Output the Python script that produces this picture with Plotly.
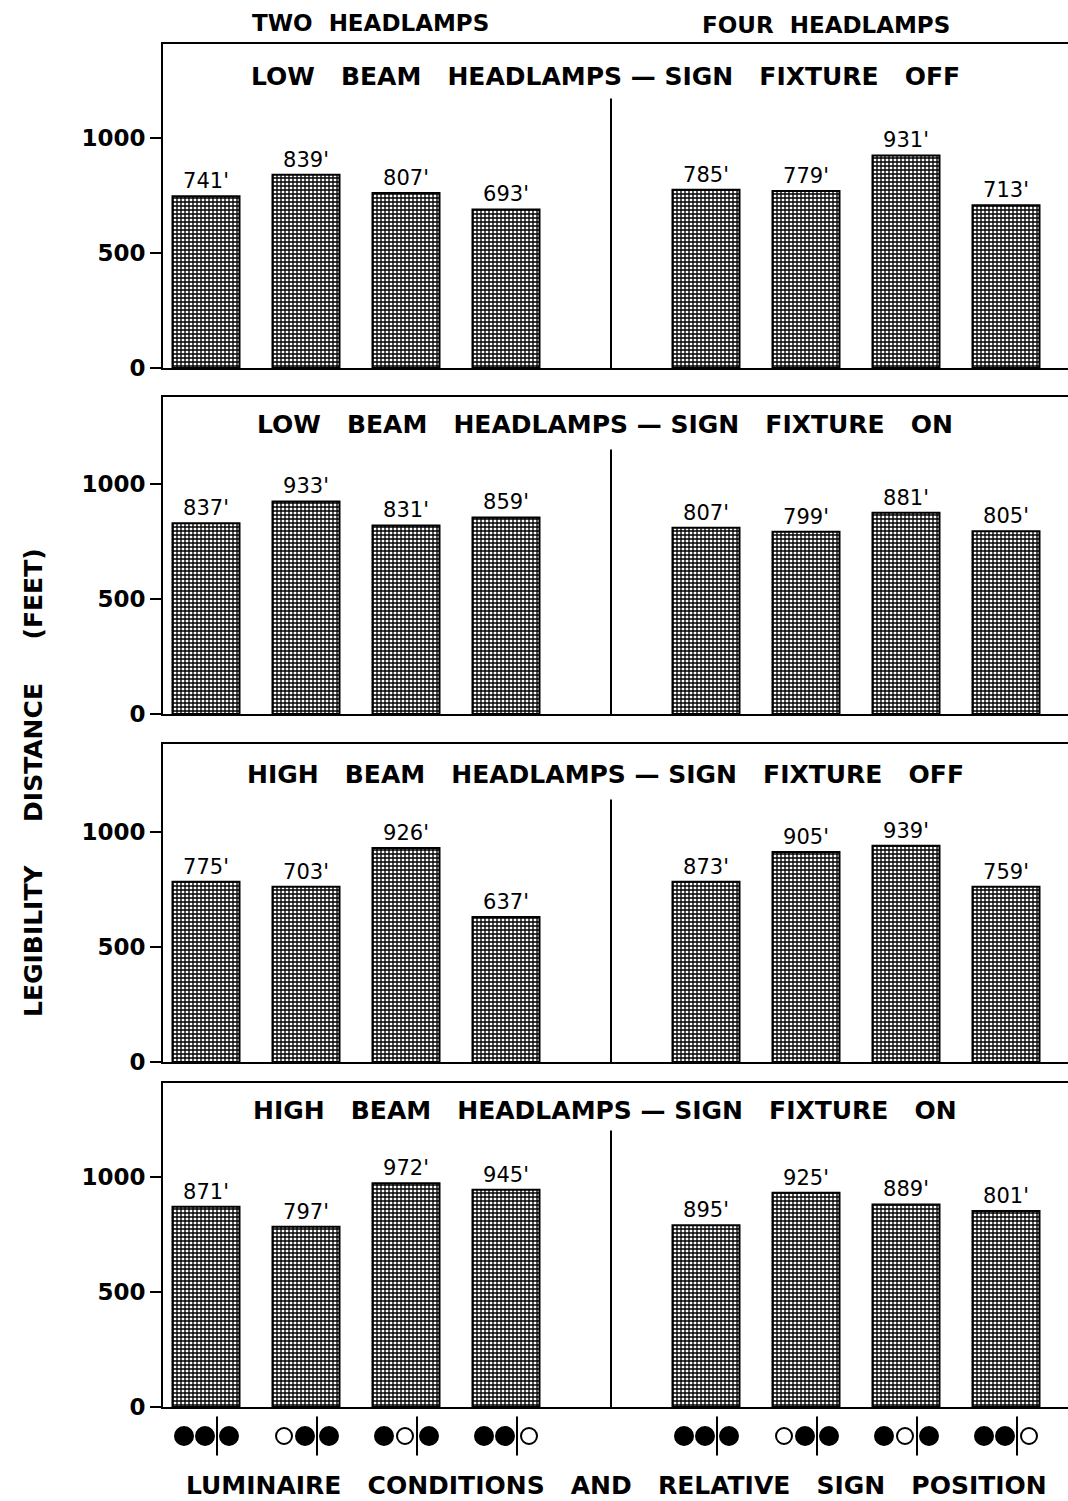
import plotly.graph_objects as go

W, H = 1068, 1501
NB = "\u00a0"

# ---------------- data ----------------
bar_positions = [0, 1, 2, 3, 5, 6, 7, 8]
divider_position = 4.05

panel_titles = [
    "LOW BEAM HEADLAMPS — SIGN FIXTURE OFF",
    "LOW BEAM HEADLAMPS — SIGN FIXTURE ON",
    "HIGH BEAM HEADLAMPS — SIGN FIXTURE OFF",
    "HIGH BEAM HEADLAMPS — SIGN FIXTURE ON",
]
group_titles = ["TWO HEADLAMPS", "FOUR HEADLAMPS"]

# printed labels (feet)
labels_low_off = [741, 839, 807, 693, 785, 779, 931, 713]
labels_low_on = [837, 933, 831, 859, 807, 799, 881, 805]
labels_high_off = [775, 703, 926, 637, 873, 905, 939, 759]
labels_high_on = [871, 797, 972, 945, 895, 925, 889, 801]

# drawn bar heights (feet)
heights_low_off = [745, 838, 759, 688, 773, 768, 922, 706]
heights_low_on = [828, 922, 818, 853, 808, 791, 873, 793]
heights_high_off = [782, 760, 928, 629, 782, 911, 938, 760]
heights_high_on = [869, 782, 971, 942, 789, 930, 879, 850]

labels = [labels_low_off, labels_low_on, labels_high_off, labels_high_on]
heights = [heights_low_off, heights_low_on, heights_high_off, heights_high_on]

# luminaire conditions: ● lit, ○ off, | sign position
luminaire_conditions = ["●●|●", "○●|●", "●○|●", "●●|○",
                        "●●|●", "○●|●", "●○|●", "●●|○"]

y_ticks = [0, 500, 1000]
y_title = "LEGIBILITY DISTANCE (FEET)"
x_title = "LUMINAIRE CONDITIONS AND RELATIVE SIGN POSITION"

# ---------------- layout geometry (pixels) ----------------
panel_px = [(44, 368), (397, 714), (744, 1062), (1083, 1407)]
title_px = [77, 425, 775, 1110]
divider_top = [1169, 1148, 1139, 1200]
px_per_unit = 0.2305
x_left_px = 163
x_range = [-0.43, 8.62]
FONT = "DejaVu Sans"


def spaced(s, n):
    return s.replace(" — ", NB + "—" + NB).replace(" ", NB * n)


def py(p):
    return 1 - p / H


def note(text, xpx, ypx, size, bold=True, angle=0):
    return dict(
        text=text, xref="paper", yref="paper", x=xpx / W, y=py(ypx),
        xanchor="center", yanchor="middle", showarrow=False, textangle=angle,
        font=dict(family=FONT, size=size, color="black",
                  weight="bold" if bold else "normal"),
    )


fig = go.Figure()
layout = dict(
    width=W, height=H,
    margin=dict(l=0, r=0, t=0, b=0, autoexpand=False),
    paper_bgcolor="white", plot_bgcolor="white",
    showlegend=False,
    font=dict(family=FONT, color="black"),
    annotations=[], shapes=[],
)

for i in range(4):
    top, bot = panel_px[i]
    ax = "" if i == 0 else str(i + 1)
    yr = (bot - top) / px_per_unit
    fig.add_trace(go.Bar(
        x=bar_positions, y=heights[i],
        xaxis="x" + ax, yaxis="y" + ax,
        width=0.67,
        text=[f"{v}'" for v in labels[i]],
        textposition="outside",
        constraintext="none",
        cliponaxis=False,
        textfont=dict(family=FONT, size=21, color="black"),
        marker=dict(
            color="white",
            line=dict(color="black", width=2),
            pattern=dict(shape="+", size=4, solidity=0.55,
                         fgcolor="black", bgcolor="white", fillmode="replace"),
        ),
        hoverinfo="skip",
    ))
    layout["xaxis" + ax] = dict(
        domain=[x_left_px / W, 1], range=x_range, anchor="y" + ax,
        showline=True, mirror=True, linecolor="black", linewidth=2,
        showticklabels=False, ticks="", showgrid=False, zeroline=False,
        automargin=False,
    )
    layout["yaxis" + ax] = dict(
        domain=[py(bot), py(top)], range=[0, yr], anchor="x" + ax,
        showline=True, linecolor="black", linewidth=2,
        ticks="outside", ticklen=11, tickwidth=2, tickcolor="black",
        tickvals=y_ticks, ticktext=[str(t) for t in y_ticks],
        tickfont=dict(family=FONT, size=23, color="black", weight="bold"),
        showgrid=False, zeroline=False, automargin=False,
    )
    layout["shapes"].append(dict(
        type="line", xref="x" + ax, yref="y" + ax,
        x0=divider_position, x1=divider_position, y0=0, y1=divider_top[i],
        line=dict(color="black", width=2),
    ))
    layout["annotations"].append(note(spaced(panel_titles[i], 3), 605, title_px[i], 25))

# luminaire symbols row
sym_x, sym_sym, sym_size = [], [], []
offsets = {0: -0.22, 1: -0.01, 2: 0.23}
for pos, cond in zip(bar_positions, luminaire_conditions):
    circles = [c for c in cond if c != "|"]
    for k, c in enumerate(circles):
        sym_x.append(pos + offsets[k])
        sym_sym.append("circle" if c == "●" else "circle-open")
        sym_size.append(18 if c == "●" else 16)
    sym_x.append(pos + 0.11)
    sym_sym.append("line-ns")
    sym_size.append(28)

fig.add_trace(go.Scatter(
    x=sym_x, y=[0] * len(sym_x), xaxis="x5", yaxis="y5",
    mode="markers",
    marker=dict(symbol=sym_sym, size=sym_size, color="black", opacity=1,
                line=dict(color="black", width=2)),
    hoverinfo="skip", cliponaxis=False,
))
layout["xaxis5"] = dict(domain=[x_left_px / W, 1], range=x_range, anchor="y5",
                        visible=False)
layout["yaxis5"] = dict(domain=[py(1460), py(1412)], range=[-1, 1], anchor="x5",
                        visible=False)

# group headers and axis titles
layout["annotations"].append(note(spaced(group_titles[0], 2), 370, 23, 23))
layout["annotations"].append(note(spaced(group_titles[1], 2), 826, 25, 23))
layout["annotations"].append(note(spaced(y_title, 5), 33, 783, 25, angle=-90))
layout["annotations"].append(note(spaced(x_title, 3), 616, 1485, 25))

fig.update_layout(**layout)
fig.write_html(
    "out.html",
    config={"displayModeBar": False},
    post_script="document.body.style.margin='0';document.body.style.overflow='hidden';",
)
